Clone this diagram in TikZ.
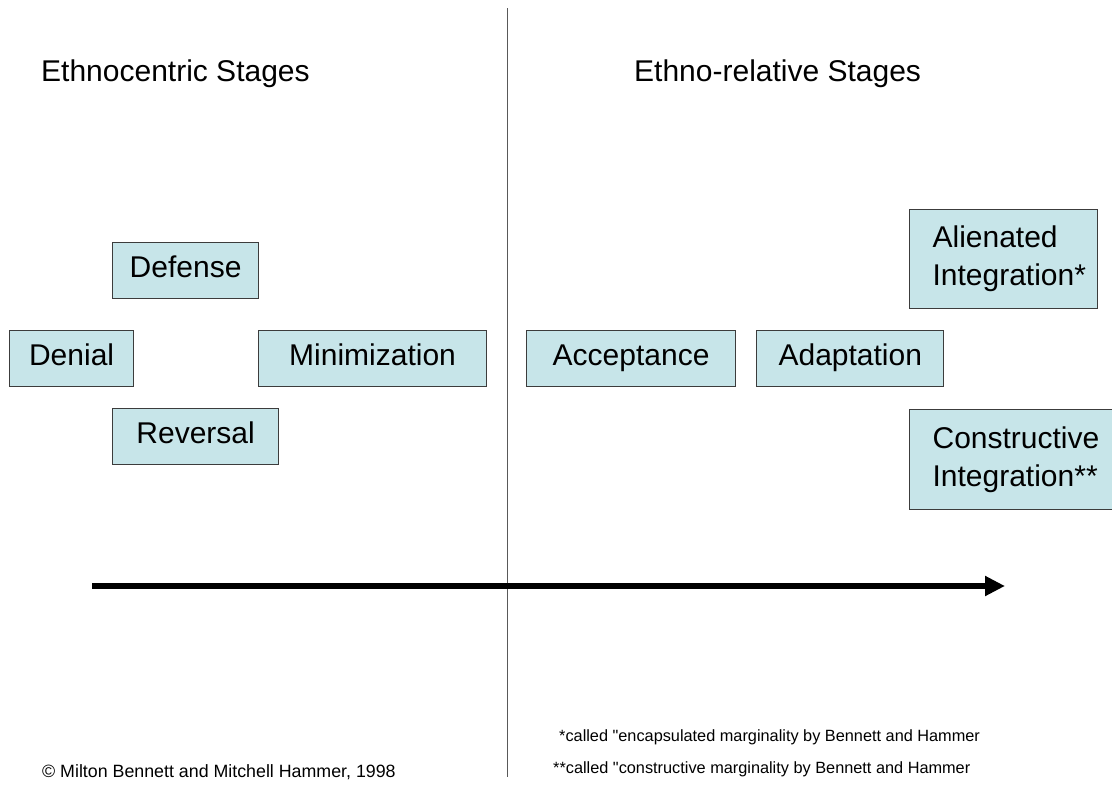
\documentclass[tikz,border=0pt]{standalone}
\usepackage{fontspec}
\setmainfont{Liberation Sans}[Ligatures=TeXOff]
\usetikzlibrary{arrows.meta, positioning}
\definecolor{stagefill}{RGB}{199,229,233}
\definecolor{stageline}{RGB}{60,60,60}

\begin{document}
\begin{tikzpicture}[
    x=1pt, y=-1pt,
    every node/.style={font=\fontsize{30}{36}\selectfont, text=black},
    heading/.style={anchor=base west, inner sep=0pt},
    stage/.style={rectangle, draw=stageline, fill=stagefill, line width=1.2pt,
        minimum height=56pt, inner sep=0pt, text height=22pt, text depth=8pt,
        anchor=north west},
    stagetwo/.style={rectangle, draw=stageline, fill=stagefill, line width=1.2pt,
        minimum height=99pt, inner xsep=23pt, inner ysep=0pt, align=left,
        anchor=north west, font=\fontsize{30}{38}\selectfont},
    note/.style={anchor=base west, inner sep=0pt, font=\fontsize{16.3}{19}\selectfont}
]
\useasboundingbox (0,0) rectangle (1112,787);

% Titoli
\node[heading] (ethnoc) at (41,81) {Ethnocentric Stages};
\node[heading] (ethnor) at (634,81) {Ethno-relative Stages};

% Linea divisoria
\coordinate (divtop) at (507,8);
\coordinate (divbot) at (507,777);
\draw[line width=1pt, black!65] (divtop) -- (divbot);

% Stadi etnocentrici
\node[stage, minimum width=124pt] (denial) at (9,330) {Denial};
\node[stage, minimum width=146pt] (defense) at (112,242) {Defense};
\node[stage, minimum width=228pt] (minim) at (258,330) {Minimization};
\node[stage, minimum width=166pt] (reversal) at (112,408) {Reversal};

% Stadi etnorelativi
\node[stage, minimum width=209pt] (accept) at (526,330) {Acceptance};
\node[stage, minimum width=187pt, right=20pt of accept] (adapt) {Adaptation};
\node[stagetwo, text width=142pt] (alien) at (909,209) {Alienated\\Integration*};
\node[stagetwo, text width=184pt, minimum height=100pt,
    below right=100pt and 0pt of alien.south west] (constr) {Constructive\\Integration**};

% Asse
\coordinate (axisL) at (92,586);
\coordinate (axisR) at (1005,586);
\draw[line width=6pt, -{Triangle[length=20pt, width=19pt]}] (axisL) -- (axisR);

% Note
\node[note] (note1) at (559,741) {*called "encapsulated marginality by Bennett and Hammer};
\node[note] (note2) at (553,773) {**called "constructive marginality by Bennett and Hammer};
\node[note, font=\fontsize{17.8}{21}\selectfont] (copy) at (42,777) {© Milton Bennett and Mitchell Hammer, 1998};

\end{tikzpicture}
\end{document}
